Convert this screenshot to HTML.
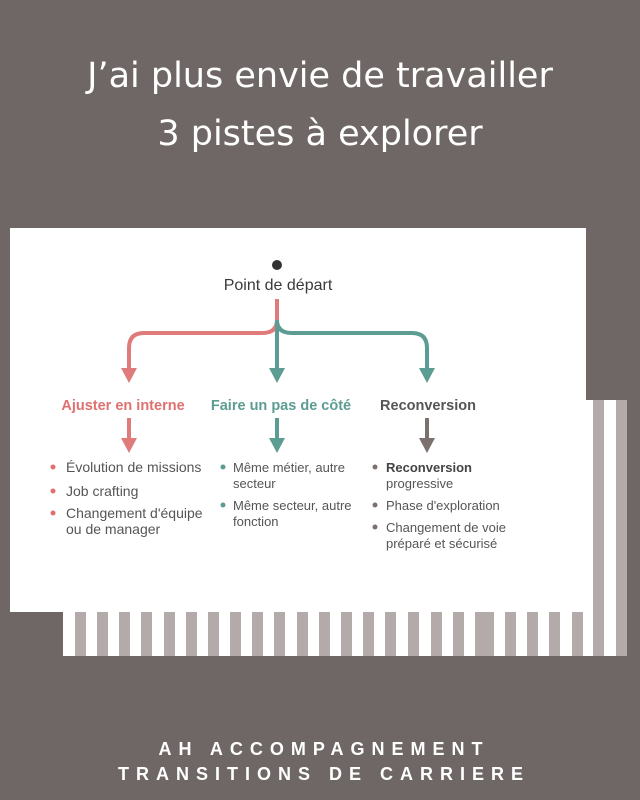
<!DOCTYPE html>
<html><head><meta charset="utf-8"><style>
html,body{margin:0;padding:0;background:#6e6765;}
svg{display:block}
</style></head><body>
<svg width="640" height="800" viewBox="0 0 640 800" xmlns="http://www.w3.org/2000/svg">
<rect width="640" height="800" fill="#6e6765"/>
<text x="320" y="87" text-anchor="middle" font-family="DejaVu Sans, sans-serif" font-size="35" fill="#fff">J’ai plus envie de travailler</text>
<text x="320" y="145" text-anchor="middle" font-family="DejaVu Sans, sans-serif" font-size="35" fill="#fff">3 pistes à explorer</text>
<rect x="63" y="400" width="564" height="256" fill="#fff"/>
<g fill="#b3abaa">
<rect x="75" y="612" width="11" height="44"/><rect x="97" y="612" width="11" height="44"/><rect x="119" y="612" width="11" height="44"/><rect x="141" y="612" width="11" height="44"/><rect x="164" y="612" width="11" height="44"/><rect x="186" y="612" width="11" height="44"/><rect x="208" y="612" width="11" height="44"/><rect x="230" y="612" width="11" height="44"/><rect x="252" y="612" width="11" height="44"/><rect x="274" y="612" width="11" height="44"/><rect x="297" y="612" width="11" height="44"/><rect x="319" y="612" width="11" height="44"/><rect x="341" y="612" width="11" height="44"/><rect x="363" y="612" width="11" height="44"/><rect x="385" y="612" width="11" height="44"/><rect x="408" y="612" width="11" height="44"/><rect x="431" y="612" width="11" height="44"/><rect x="453" y="612" width="11" height="44"/><rect x="475" y="612" width="19" height="44"/><rect x="505" y="612" width="11" height="44"/><rect x="527" y="612" width="11" height="44"/><rect x="549" y="612" width="11" height="44"/><rect x="572" y="612" width="11" height="44"/>
<rect x="593" y="400" width="11" height="256"/><rect x="616" y="400" width="11" height="256"/>
</g>
<rect x="10" y="228" width="576" height="384" fill="#fff"/>
<circle cx="277" cy="265" r="5" fill="#333"/>
<text x="278" y="290" text-anchor="middle" font-family="Liberation Sans, sans-serif" font-size="16" fill="#3a3a3a">Point de départ</text>
<g fill="none" stroke-width="4">
<path d="M277 299 V320 Q277 333 262 333 H144 Q129 333 129 348 V370" stroke="#e07b7b"/>
<path d="M277 320 Q277 333 292 333 H412 Q427 333 427 348 V370" stroke="#5d9c93"/>
<path d="M277 320 V370" stroke="#5d9c93"/>
<path d="M129 418 V440" stroke="#e07b7b"/>
<path d="M277 418 V440" stroke="#5d9c93"/>
<path d="M427 418 V440" stroke="#7b716e"/>
</g>
<polygon points="121,368 137,368 129,383" fill="#e07b7b"/>
<polygon points="269,368 285,368 277,383" fill="#5d9c93"/>
<polygon points="419,368 435,368 427,383" fill="#5d9c93"/>
<polygon points="121,438 137,438 129,453" fill="#e07b7b"/>
<polygon points="269,438 285,438 277,453" fill="#5d9c93"/>
<polygon points="419,438 435,438 427,453" fill="#7b716e"/>
<g font-family="Liberation Sans, sans-serif" font-size="14.5" font-weight="bold" text-anchor="middle">
<text x="123" y="410" fill="#e07070">Ajuster en interne</text>
<text x="281" y="410" fill="#5d9c93">Faire un pas de côté</text>
<text x="428" y="410" fill="#555">Reconversion</text>
</g>
<g font-family="Liberation Sans, sans-serif" font-size="13" fill="#555">
<g fill="#e07070"><circle cx="53" cy="467" r="2.5"/><circle cx="53" cy="491" r="2.5"/><circle cx="53" cy="513" r="2.5"/></g>
<g font-size="14">
<text x="66" y="472">Évolution de missions</text>
<text x="66" y="496">Job crafting</text>
<text x="66" y="518">Changement d'équipe</text>
<text x="66" y="534">ou de manager</text>
</g>
<g fill="#5d9c93"><circle cx="223" cy="467" r="2.5"/><circle cx="223" cy="505" r="2.5"/></g>
<text x="233" y="472">Même métier, autre</text>
<text x="233" y="488">secteur</text>
<text x="233" y="510">Même secteur, autre</text>
<text x="233" y="526">fonction</text>
<g fill="#7b716e"><circle cx="375" cy="467" r="2.5"/><circle cx="375" cy="505" r="2.5"/><circle cx="375" cy="527" r="2.5"/></g>
<text x="386" y="472" font-weight="bold" fill="#444">Reconversion</text>
<text x="386" y="488">progressive</text>
<text x="386" y="510">Phase d'exploration</text>
<text x="386" y="532">Changement de voie</text>
<text x="386" y="548">préparé et sécurisé</text>
</g>
<g font-family="Liberation Sans, sans-serif" font-size="18" font-weight="bold" fill="#fff" text-anchor="middle" letter-spacing="7">
<text x="324" y="755">AH ACCOMPAGNEMENT</text>
<text x="324" y="780">TRANSITIONS DE CARRIERE</text>
</g>
</svg>
</body></html>
